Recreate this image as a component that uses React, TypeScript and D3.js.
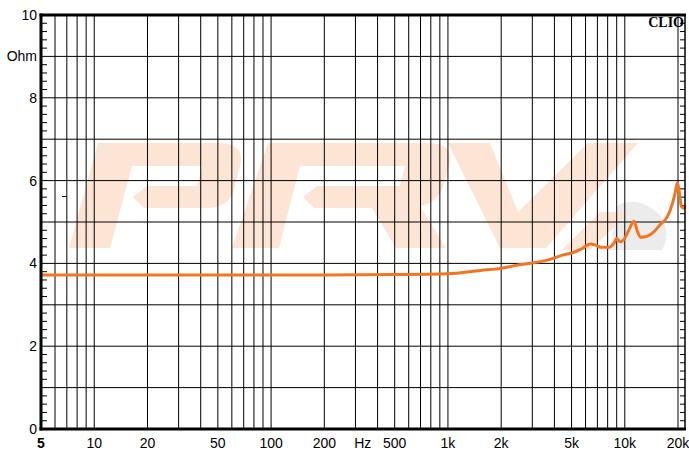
import { useEffect, useRef } from "react";
import * as d3 from "d3";

// impedance curve
const freqs = [
  5, 50, 200, 500, 1000, 1530, 2000, 2350, 3000, 3660, 4450, 5000, 5490, 5630,
  6415, 6850, 7300, 8140, 8690, 9000, 9400, 9900, 10560, 11280, 11790, 12300,
  13430, 14640, 15970, 17420, 18600, 19240, 19850, 20380, 20910, 21630, 21900,
];
const ohms = [
  3.72, 3.72, 3.72, 3.73, 3.75, 3.83, 3.88, 3.94, 4.01, 4.08, 4.2, 4.25, 4.32,
  4.34, 4.47, 4.44, 4.39, 4.39, 4.49, 4.6, 4.52, 4.58, 4.81, 5.02, 4.77, 4.63,
  4.66, 4.77, 4.95, 5.13, 5.45, 5.69, 5.95, 5.69, 5.37, 5.33, 5.4,
];

const xLabels = [
  { f: 5, t: "5", bold: true },
  { f: 10, t: "10" },
  { f: 20, t: "20" },
  { f: 50, t: "50" },
  { f: 100, t: "100" },
  { f: 200, t: "200" },
  { f: 330, t: "Hz" },
  { f: 500, t: "500" },
  { f: 1000, t: "1k" },
  { f: 2000, t: "2k" },
  { f: 5000, t: "5k" },
  { f: 10000, t: "10k" },
  { f: 20000, t: "20k" },
];
const yLabels = [0, 2, 4, 6, 8, 10];
const gridDecades = [1, 10, 100, 1000, 10000];
const gridSteps = [1, 2, 3, 4, 5, 6, 7, 8, 9];

const W = 689;
const H = 451;
const orange = "#f47521";
const peach = "#fde5d6";

export default function App() {
  const svgRef = useRef<SVGSVGElement>(null);

  useEffect(() => {
    const svg = d3.select(svgRef.current);
    svg.selectAll("*").remove();

    const left = 41;
    const right = 685;
    const top = 15;
    const bottom = 429;

    const x = d3.scaleLog().domain([5, 21900]).range([left, right]);
    const y = d3.scaleLinear().domain([0, 10]).range([bottom, top]);

    // watermark logo
    const wm = svg.append("g");
    wm.append("path")
      .attr("fill", peach)
      .attr(
        "d",
        "M98 143 L218 143 Q246 143 240 166 L234 190 Q229 208 205 208 L144 208 L133 197 L147 186 L197 186 L202 166 L132 166 L110 248 L69 248 Z"
      );
    wm.append("path")
      .attr("fill", peach)
      .attr(
        "d",
        "M268 143 L428 143 Q455 143 449 166 L443 186 Q438 203 420 206 L446 248 L396 248 L372 208 L314 208 L303 197 L317 186 L400 186 L405 166 L300 166 L279 248 L232 248 Z"
      );
    wm.append("path")
      .attr("fill", peach)
      .attr("d", "M448 143 L490 143 L518 212 L588 143 L638 143 L546 248 L500 248 Z");
    wm.append("path")
      .attr("fill", "#ececec")
      .attr("d", "M618 205 Q640 195 660 215 Q672 232 662 250 L610 250 Z");
    wm.append("path")
      .attr("fill", peach)
      .attr("d", "M600 212 L630 212 L590 250 L562 250 Z");

    // vertical grid
    const gridFreqs: number[] = [];
    gridDecades.forEach((d) =>
      gridSteps.forEach((s) => {
        const f = d * s;
        if (f > 5 && f <= 20000) gridFreqs.push(f);
      })
    );
    svg
      .append("g")
      .selectAll("line")
      .data(gridFreqs)
      .enter()
      .append("line")
      .attr("x1", (d) => x(d))
      .attr("x2", (d) => x(d))
      .attr("y1", top)
      .attr("y2", bottom)
      .attr("stroke", "#000")
      .attr("stroke-width", 1);

    // horizontal grid
    svg
      .append("g")
      .selectAll("line")
      .data(d3.range(1, 10))
      .enter()
      .append("line")
      .attr("x1", left)
      .attr("x2", right)
      .attr("y1", (d) => y(d))
      .attr("y2", (d) => y(d))
      .attr("stroke", "#000")
      .attr("stroke-width", 1);

    // minor ticks on left and right borders
    const minor = d3
      .range(0, 50)
      .map((i) => i * 0.2)
      .filter((v) => Math.abs(v - Math.round(v)) > 0.01);
    svg
      .append("g")
      .selectAll("line")
      .data(minor)
      .enter()
      .append("line")
      .attr("x1", left)
      .attr("x2", left + 6)
      .attr("y1", (d) => y(d))
      .attr("y2", (d) => y(d))
      .attr("stroke", "#000");
    svg
      .append("g")
      .selectAll("line")
      .data(minor)
      .enter()
      .append("line")
      .attr("x1", right)
      .attr("x2", right - 5)
      .attr("y1", (d) => y(d))
      .attr("y2", (d) => y(d))
      .attr("stroke", "#000");

    svg
      .append("line")
      .attr("x1", 62)
      .attr("x2", 67)
      .attr("y1", 196.5)
      .attr("y2", 196.5)
      .attr("stroke", "#000");

    // curve
    const pts = freqs.map((f, i) => [f, ohms[i]] as [number, number]);
    const line = d3
      .line<[number, number]>()
      .x((d) => x(d[0]))
      .y((d) => y(d[1]))
      .curve(d3.curveMonotoneX);
    svg
      .append("path")
      .datum(pts)
      .attr("d", line)
      .attr("fill", "none")
      .attr("stroke", orange)
      .attr("stroke-width", 3)
      .attr("stroke-linejoin", "round");

    // frame
    svg
      .append("line")
      .attr("x1", right)
      .attr("x2", right)
      .attr("y1", top)
      .attr("y2", bottom)
      .attr("stroke", "#000")
      .attr("stroke-width", 1.5);
    svg
      .append("line")
      .attr("x1", left - 1.5)
      .attr("x2", right + 1)
      .attr("y1", top)
      .attr("y2", top)
      .attr("stroke", "#000")
      .attr("stroke-width", 3);
    svg
      .append("line")
      .attr("x1", left - 1.5)
      .attr("x2", right + 1)
      .attr("y1", bottom)
      .attr("y2", bottom)
      .attr("stroke", "#000")
      .attr("stroke-width", 3);
    svg
      .append("line")
      .attr("x1", left)
      .attr("x2", left)
      .attr("y1", top - 1.5)
      .attr("y2", bottom + 1.5)
      .attr("stroke", "#000")
      .attr("stroke-width", 3);

    const font = "'Liberation Sans', Arial, sans-serif";

    // y labels
    svg
      .append("g")
      .selectAll("text")
      .data(yLabels)
      .enter()
      .append("text")
      .attr("x", 37)
      .attr("y", (d) => y(d) + 5)
      .attr("text-anchor", "end")
      .attr("font-family", font)
      .attr("font-size", 14)
      .text((d) => String(d));
    svg
      .append("text")
      .attr("x", 37)
      .attr("y", y(9) + 5)
      .attr("text-anchor", "end")
      .attr("font-family", font)
      .attr("font-size", 14)
      .text("Ohm");

    // x labels
    svg
      .append("g")
      .selectAll("text")
      .data(xLabels)
      .enter()
      .append("text")
      .attr("x", (d) => x(d.f))
      .attr("y", 448)
      .attr("text-anchor", "middle")
      .attr("font-family", font)
      .attr("font-size", 14)
      .attr("font-weight", (d) => (d.bold ? "bold" : "normal"))
      .text((d) => d.t);

    svg
      .append("text")
      .attr("x", 684)
      .attr("y", 27)
      .attr("text-anchor", "end")
      .attr("font-family", "'Liberation Serif', 'Times New Roman', serif")
      .attr("font-weight", "bold")
      .attr("font-size", 14)
      .text("CLIO");
  }, []);

  return (
    <svg
      ref={svgRef}
      width={W}
      height={H}
      style={{ position: "absolute", left: 0, top: 0, background: "#fff" }}
    />
  );
}
